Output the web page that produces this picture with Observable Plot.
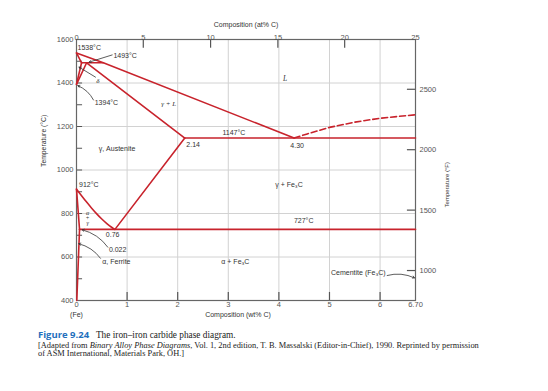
<!DOCTYPE html>
<html><head><meta charset="utf-8">
<script src="https://cdn.jsdelivr.net/npm/d3@7"></script>
<script src="https://cdn.jsdelivr.net/npm/@observablehq/plot@0.6"></script>
<style>
html,body{margin:0;padding:0;background:#fff;}
body{width:548px;height:391px;overflow:hidden;position:relative;font-family:"Liberation Sans",Arial,sans-serif;}
#chart svg{display:block}
.cap{position:absolute;left:38px;white-space:nowrap;color:#222;font-family:"Liberation Serif","Times New Roman",serif;}
</style></head><body>
<div id="chart"></div>
<div class="cap" style="top:329px;font-size:9.3px;line-height:11px"><span style="font-family:'Open Sans',sans-serif;font-weight:bold;color:#2470bd;font-size:9.5px">Figure 9.24</span>&nbsp;&nbsp; The iron–iron carbide phase diagram.</div>
<div class="cap" style="top:341.5px;font-size:8.4px;line-height:8.5px">[Adapted from <i>Binary Alloy Phase Diagrams</i>, Vol. 1, 2nd edition, T. B. Massalski (Editor-in-Chief), 1990. Reprinted by permission<br>of ASM International, Materials Park, OH.]</div>
<script>
// ---- axes ----
const wtTicks = [0, 1, 2, 3, 4, 5, 6, 6.70];
const wtTickLabels = ["0", "1", "2", "3", "4", "5", "6", "6.70"];
const atTicks = [0, 5, 10, 15, 20, 25];
const atTickWt = [0, 1.32, 2.65, 3.98, 5.30, 6.70];   // where the at% ticks sit on the wt% axis
const cTicks = [400, 600, 800, 1000, 1200, 1400, 1600];
const cMinorTicks = [500, 700, 900, 1100, 1300, 1500];
const fTicks = [1000, 1500, 2000, 2500];
const gridWt = [1, 2, 3, 4, 5, 6];
const gridC = [600, 800, 1000, 1200, 1400];

// ---- phase boundaries [wt% C, °C] ----
const liquidus = [[0, 1538], [0.53, 1493], [4.30, 1147]];
const liquidusFe3C = [[4.30, 1147], [4.56, 1166], [5.0, 1196], [5.5, 1220], [6.0, 1238], [6.70, 1254]];
const deltaSolidus = [[0, 1538], [0.10, 1493]];
const deltaSolvus = [[0.10, 1493], [0, 1394]];
const peritectic = [[0.10, 1493], [0.53, 1493]];
const gammaDelta = [[0.20, 1493], [0, 1394]];
const solidus = [[0.20, 1493], [2.14, 1147]];
const eutectic = [[2.14, 1147], [6.70, 1147]];
const acm = [[2.14, 1147], [0.76, 727]];
const a3 = [[0, 912], [0.1, 882], [0.2, 852], [0.3, 824], [0.4, 798], [0.5, 774], [0.6, 753], [0.7, 735], [0.76, 727]];
const alphaGamma = [[0, 912], [0.06, 727]];
const alphaSolvus = [[0.06, 727], [0.006, 400]];
const eutectoid = [[0.06, 727], [6.70, 727]];

// ---- annotations ----
const numLabels = [
  {t: "1538°C", x: 0.02, y: 1560, a: "start"},
  {t: "1493°C", x: 0.73, y: 1526, a: "start"},
  {t: "1394°C", x: 0.36, y: 1307, a: "start"},
  {t: "1147°C", x: 3.11, y: 1171, a: "middle"},
  {t: "2.14", x: 2.17, y: 1116, a: "start"},
  {t: "4.30", x: 4.36, y: 1113, a: "middle"},
  {t: "912°C", x: 0.05, y: 933, a: "start"},
  {t: "0.76", x: 0.58, y: 703, a: "start"},
  {t: "0.022", x: 0.64, y: 634, a: "start"},
  {t: "727°C", x: 4.49, y: 765, a: "middle"},
  {t: "γ, Austenite", x: 0.80, y: 1097, a: "middle"},
  {t: "γ + Fe₃C", x: 4.20, y: 933, a: "middle"},
  {t: "α + Fe₃C", x: 3.14, y: 579, a: "middle"},
  {t: "α, Ferrite", x: 0.51, y: 576, a: "start"},
  {t: "Cementite (Fe₃C)", x: 6.11, y: 527, a: "end"}
];
const greekLabels = [
  {t: "δ", x: 0.42, y: 1411, s: 7},
  {t: "γ + L", x: 1.82, y: 1304, s: 7},
  {t: "L", x: 4.12, y: 1419, s: 7.5},
  {t: "α\n+\nγ", x: 0.22, y: 779, s: 6}
];
const straightLeaders = [
  {x1: 0.705, y1: 1529, x2: 0.25, y2: 1496},
  {x1: 0.375, y1: 1427, x2: 0.05, y2: 1473}
];
const curvedLeaders = [
  {x1: 0.336, y1: 1322, x2: 0.026, y2: 1388},
  {x1: 0.619, y1: 645, x2: 0.113, y2: 725},
  {x1: 0.474, y1: 594, x2: 0.045, y2: 661}
];
const cementiteLeader = [{x1: 6.14, y1: 515, x2: 6.68, y2: 504}];

const red = "#c8232c";
const ink = "#333";
const axisInk = "#555";
const seg = (data, opts = {}) => Plot.line(data, {x: d => d[0], y: d => d[1], stroke: red, strokeWidth: 1.6, ...opts});
const toC = f => (f - 32) * 5 / 9;
const leader = (data, bend) => Plot.arrow(data, {x1: "x1", y1: "y1", x2: "x2", y2: "y2", bend, stroke: ink, strokeWidth: 0.8, headLength: 4});

const chart = Plot.plot({
  width: 548, height: 322,
  marginLeft: 76, marginRight: 133, marginTop: 39, marginBottom: 22,
  x: {domain: [0, 6.70], axis: null},
  y: {domain: [400, 1600], axis: null},
  style: {fontFamily: "'Liberation Sans', 'DejaVu Sans', Arial, sans-serif", background: "white", overflow: "visible"},
  marks: [
    Plot.ruleX(gridWt, {stroke: "#d2d2d2", strokeWidth: 1}),
    Plot.ruleY(gridC, {stroke: "#d2d2d2", strokeWidth: 1}),
    // ticks
    Plot.ruleY(cMinorTicks.concat(cTicks), {x1: 0, x2: 0.12, stroke: axisInk, strokeWidth: 1}),
    Plot.ruleX(gridWt, {y1: 400, y2: 437, stroke: axisInk, strokeWidth: 1.2}),
    Plot.ruleX(atTickWt.slice(1, -1), {y1: 1600, y2: 1560, stroke: axisInk, strokeWidth: 1.2}),
    Plot.ruleY(fTicks, {y: toC, x1: 6.54, x2: 6.70, stroke: axisInk, strokeWidth: 1.2}),
    Plot.frame({stroke: "#666", strokeWidth: 1.2}),
    // tick labels
    Plot.text(cTicks, {y: d => d, text: d => String(d), frameAnchor: "left", dx: -3, textAnchor: "end", fontSize: 7.5, fill: axisInk}),
    Plot.text(wtTicks, {x: d => d, text: (d, i) => wtTickLabels[i], frameAnchor: "bottom", dy: 6, fontSize: 7.5, fill: axisInk}),
    Plot.text(atTicks, {x: (d, i) => atTickWt[i], text: d => String(d), frameAnchor: "top", dy: -5, fontSize: 7.5, fill: axisInk}),
    Plot.text(fTicks, {y: toC, text: d => String(d), frameAnchor: "right", dx: 4, textAnchor: "start", fontSize: 7.5, fill: axisInk}),
    // axis titles
    Plot.text(["Composition (at% C)"], {frameAnchor: "top", dy: -17, fontSize: 7, fill: ink}),
    Plot.text(["Composition (wt% C)"], {frameAnchor: "bottom", dx: -8, dy: 16, fontSize: 7, fill: ink}),
    Plot.text(["(Fe)"], {x: 0, frameAnchor: "bottom", dy: 16, fontSize: 7, fill: ink}),
    Plot.text(["Temperature (°C)"], {frameAnchor: "left", dx: -33, dy: -3, rotate: -90, fontSize: 6.8, fill: ink}),
    Plot.text(["Temperature (°F)"], {frameAnchor: "right", dx: 31.5, dy: -8, rotate: -90, fontSize: 6, fill: ink}),
    // phase boundaries
    seg(liquidusFe3C, {strokeDasharray: "6,3"}),
    seg(deltaSolidus), seg(deltaSolvus), seg(peritectic), seg(gammaDelta),
    seg(liquidus), seg(solidus), seg(eutectic), seg(acm),
    seg(a3, {curve: "basis"}), seg(alphaGamma), seg(alphaSolvus), seg(eutectoid),
    // leaders
    leader(straightLeaders, 0),
    leader(curvedLeaders, -20),
    leader(cementiteLeader, 20),
    // labels
    Plot.text(numLabels, {x: "x", y: "y", text: "t", textAnchor: "start", filter: d => d.a === "start", fontSize: 7, fill: ink}),
    Plot.text(numLabels, {x: "x", y: "y", text: "t", textAnchor: "middle", filter: d => d.a === "middle", fontSize: 7, fill: ink}),
    Plot.text(numLabels, {x: "x", y: "y", text: "t", textAnchor: "end", filter: d => d.a === "end", fontSize: 7, fill: ink}),
    Plot.text(greekLabels, {x: "x", y: "y", text: "t", fontSize: d => d.s, fontStyle: "italic", fontFamily: "'Liberation Serif', serif", fill: ink, lineHeight: 0.85})
  ]
});
document.getElementById("chart").appendChild(chart);
</script>
</body></html>
